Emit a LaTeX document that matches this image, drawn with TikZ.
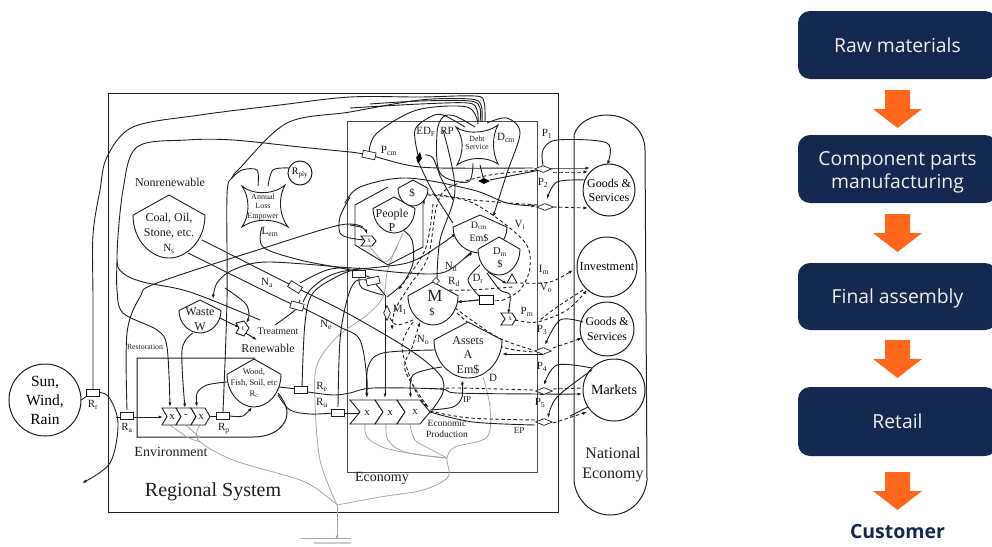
\documentclass[tikz,border=0pt]{standalone}
\usepackage{fontspec}
\setmainfont{Liberation Serif}
\newfontfamily\flowfont{Open Sans}
\usetikzlibrary{arrows.meta,shapes.geometric}
\definecolor{navy}{HTML}{14294F}
\definecolor{orangearrow}{HTML}{FF681C}
\definecolor{ink}{HTML}{1E1E1E}
\newcommand\cv[2][]{\draw[wire,#1] plot[smooth,tension=.55] coordinates {#2};}
\newcommand\tankshape[5]{\draw[wire,fill=white,shift={(#2,#3)},xscale=#4,yscale=#5] (-1,.32)--(0,0)--(1,.32) .. controls (1,.72) and (.5,1) .. (0,1) .. controls (-.5,1) and (-1,.72) .. (-1,.32) -- cycle; \coordinate (#1) at (#2,#3);}
\newcommand\subt[2]{#1\textsubscript{#2}}
\tikzset{
 x=1pt,y=-1pt,
 wire/.style={draw=ink,line width=.9pt},
 arr/.style={-{Latex[length=4.5pt,width=3.2pt]}},
 dsh/.style={dash pattern=on 3.5pt off 2.5pt},
 grayw/.style={draw=black!35,line width=.8pt},
 lab/.style={inner sep=0pt,font=\fontsize{11}{11}\selectfont,text=ink},
 smalltxt/.style={inner sep=0pt,font=\fontsize{7.5}{8}\selectfont,align=center,text=ink},
 midtxt/.style={inner sep=0pt,font=\fontsize{12}{15}\selectfont,align=center,text=ink},
 circ/.style={circle,draw=ink,line width=1pt,fill=white,inner sep=0pt},
 valve/.style={draw=ink,fill=white,line width=.7pt,minimum width=13pt,minimum height=7pt,inner sep=0pt},
 sens/.style={diamond,draw=ink,fill=white,line width=.7pt,minimum width=17pt,minimum height=7pt,inner sep=0pt,aspect=2.5},
 bdiam/.style={diamond,fill=black,inner sep=0pt,minimum width=12pt,minimum height=6pt},
 flowbox/.style={rounded corners=12pt,fill=navy,minimum width=199pt,inner sep=0pt,text=white!94!black,font=\flowfont\fontsize{19.3}{23}\selectfont,align=center},
 oneline/.style={text height=18pt,text depth=4pt},
 downarrow/.style={fill=orangearrow}
}
\newcommand\downarr[2]{\fill[downarrow] (885,#1)--(910,#1)--(910,#1+19)--(922,#1+19)--(897.5,#2)--(873,#1+19)--(885,#1+19)--cycle;}
\begin{document}
\begin{tikzpicture}
\clip (0,0) rectangle (992,546);
% boxes
\draw[wire,line width=1pt] (108,93) rectangle (558,512);
\draw[wire,line width=1pt,draw=ink!80] (347,121) rectangle (537,472);
% national economy capsule
\draw[wire,line width=1pt] (574,480) -- (574,135) .. controls (578,122) and (592,115) .. (607,115) .. controls (628,115) and (645,130) .. (645,150) -- (647,480) .. controls (645,500) and (630,515) .. (610,515) .. controls (590,515) and (575,498) .. (574,480);
% environment frame
\draw[wire,line width=1pt] (255,358) -- (137,358) -- (137,437) -- (253,437) .. controls (275,437) and (287,425) .. (287,413) .. controls (287,405) and (282,398) .. (278,393);
% nodes that curves attach to
\node[circ,minimum size=72pt,font=\fontsize{15.5}{19}\selectfont,align=center] (sun) at (45,400) {Sun,\\Wind,\\Rain};
\node[circ,minimum size=52pt,font=\fontsize{12}{14}\selectfont,align=center] (goodsA) at (609,190) {Goods \&\\Services};
\node[circ,minimum size=60pt,font=\fontsize{12.3}{13}\selectfont] (invest) at (607,267) {Investment};
\node[circ,minimum size=54pt,font=\fontsize{11.8}{15}\selectfont,align=center] (goodsB) at (607,329) {Goods \&\\Services};
\node[circ,minimum size=62pt,font=\fontsize{14}{15}\selectfont] (markets) at (614,390) {Markets};
\node[circ,minimum size=24pt,font=\fontsize{10}{10}\selectfont] (rply) at (300,173) {\subt{R}{ply}};
% gray heat sinks
\cv[grayw]{(365,424)(367,437)(385,448)(420,455)(447,458)}
\cv[grayw]{(386,424)(388,440)(405,452)(447,458)}
\cv[grayw]{(410,424)(415,440)(432,450)(447,458)}
\cv[grayw]{(483,377)(490,407)(487,437)(455,447)(447,458)(448,477)(423,490)(380,497)(337,505)}
\cv[grayw]{(170,425)(187,437)(200,442)}
\cv[grayw]{(186,425)(200,438)}
\cv[grayw]{(200,425)(198,440)(233,460)(300,480)(325,495)(337,505)}
\cv[grayw]{(403,233)(393,255)(387,273)(383,297)(367,315)(337,337)(317,365)(315,400)(320,460)(337,505)}
\cv[grayw]{(365,240)(385,262)(398,245)}
\draw[grayw,arr] (337,505) -- (337,540);
\draw[grayw] (301,538) -- (351,538);
\draw[grayw,draw=black!20,line width=1.2pt] (314,543) -- (351,543);
% long outer curves
\cv{(93,393)(93,300)(93,235)(100,190)(107,157)(133,127)(200,115)(280,105)(350,97)(420,97)(475,96)(484,102)(485,122)}
\cv{(223,412)(227,300)(227,195)(232,178)(240,168)(287,123)(350,112)(420,100)(470,99)(481,105)(482,122)}
\cv{(350,152)(300,147)(233,140)(187,140)(137,147)(123,190)(117,257)(123,273)(143,282)(190,292)(260,320)}
\cv[arr]{(117,262)(117,290)(123,313)(157,330)(167,347)(170,407)}
\cv{(350,152)(369,155)(407,165)(440,168)(533,168)}
\cv[arr]{(540,168)(590,168)}
\cv{(369,152)(377,133)(417,110)(467,107)(478,124)}
\cv{(350,108)(420,104)(468,103)(477,110)(478,122)}
\cv{(370,104)(420,101)(470,101)(480,108)(480,122)}
% sun
\cv[arr]{(sun.east)(93,393)(108,396)(118,423)(110,463)(82,483)}
% restoration
\cv{(127,410)(127,333)(140,297)(157,283)(267,247)(340,225)(363,227)}
\cv[arr]{(350,225)(363,228)(367,234)}
\draw[wire,arr] (116,417) -- (163,417);
% waste etc
\cv[arr]{(193,333)(182,350)(185,408)}
\cv[arr]{(218,317)(232,324)(240,327)}
\draw[wire,arr] (244,332) -- (257,340);
\cv[arr]{(227,382)(207,385)(197,393)(197,407)}
\draw[wire] (210,416) -- (217,416);
\cv[arr]{(230,416)(243,416)(252,407)}
\cv[arr]{(225,288)(245,303)(249,315)(246,323)}
\cv[arr]{(350,268)(267,262)(233,270)(217,283)(213,299)}
% wood to Re and Ru
\cv{(279,387)(297,389)}
\cv[arr]{(308,392)(333,395)(350,393)(373,388)(440,389)(457,393)(540,394)(582,394)}
\cv{(302,387)(305,323)(313,293)(340,275)(360,268)}
\cv{(278,395)(290,410)(310,414)(333,413)}
\draw[wire,arr] (345,413) -- (363,413);
\cv{(338,407)(340,340)(347,300)(356,281)(373,281)}
% coal lines
\cv{(202,240)(295,287)(347,313)(410,350)(440,375)(443,392)(432,410)}
\cv[arr]{(188,253)(283,300)(303,308)(340,327)(360,340)(367,380)(366,397)}
\cv{(300,283)(327,270)(353,268)(407,273)(445,272)(473,250)}
\draw[wire,arr] (465,258) -- (473,252);
\cv[arr]{(303,302)(313,287)(340,272)(407,263)(440,245)(456,233)}
\cv{(275,325)(295,310)(300,300)}
\cv{(262,227)(263,247)(300,260)(350,270)(373,279)}
% L em / R ply
\cv{(268,186)(273,170)(289,168)}
\cv{(258,186)(257,170)(242,170)(232,178)}
% economy valves
\cv{(359,278)(362,288)(383,295)}
\cv{(375,283)(385,295)}
\draw[wire,arr] (385,295) -- (385,398);
\cv{(403,230)(412,240)(413,263)(403,283)(387,297)}
\cv[dsh]{(390,318)(397,325)(413,320)}
% assets to chevrons
\cv[arr]{(435,350)(383,353)(368,367)(367,398)}
\cv[arr]{(442,367)(413,375)(411,398)}
\cv[arr]{(430,410)(453,407)(462,397)(462,380)}
\cv{(430,412)(473,422)(535,425)}
\cv[dsh]{(430,411)(470,418)(537,420)}
% tanks' dashed links
\cv[dsh,arr]{(540,170)(490,175)(450,187)(437,205)(428,257)(410,285)(395,310)(392,330)}
\cv[dsh,arr]{(433,204)(425,250)(398,290)}
\cv[dsh,arr]{(537,205)(473,200)(428,194)(425,205)}
\cv[dsh]{(428,195)(473,203)(523,240)(530,267)(520,290)(503,300)}
\cv[dsh,arr]{(478,300)(457,302)}
\cv[dsh]{(495,300)(503,300)}
\cv[dsh,arr]{(413,322)(402,347)(415,390)(428,407)}
\cv[dsh,arr]{(428,407)(405,370)(413,345)(420,322)}
\cv[dsh]{(437,290)(470,290)(513,287)}
\cv[dsh,arr]{(520,283)(550,282)(573,270)}
\cv[dsh,arr]{(515,320)(537,322)(567,310)(587,290)}
\cv[dsh]{(583,290)(557,307)(540,320)}
\cv[dsh]{(455,308)(497,337)(533,350)}
\cv[dsh]{(457,313)(497,345)(535,352)}
\cv[dsh]{(533,390)(457,388)(430,389)}
% debt service loops
\cv{(465,127)(443,115)(430,117)(415,130)(418,155)}
\cv{(419,163)(432,190)(453,223)}
\cv{(425,155)(433,158)(441,178)(453,200)}
\cv{(475,127)(455,116)(443,117)(437,133)(440,173)(468,182)(473,163)}
\cv{(443,130)(455,190)(440,240)(437,280)}
\cv[arr]{(487,123)(507,118)(520,133)(507,173)(493,217)}
\cv{(480,165)(484,181)}
\cv{(490,180)(540,170)}
% dm / box
\cv{(480,265)(468,280)(480,297)}
\cv[arr]{(487,273)(500,290)(510,295)(508,314)}
\cv[arr]{(488,272)(507,284)}
\draw[wire,arr] (479,300) -- (457,302);
% price sensors
\cv[arr]{(543,165)(543,150)(557,140)(607,143)(607,165)}
\cv[arr]{(585,180)(557,182)(547,199)}
\cv[arr]{(345,203)(360,187)(407,178)(473,190)(507,203)(536,206)}
\cv{(350,197)(340,217)(340,233)(350,238)(365,240)}
\cv[dsh,arr]{(553,172)(588,172)}
\cv[dsh,arr]{(553,207)(588,208)}
\cv[arr]{(583,322)(560,320)(545,345)}
\cv[dsh,arr]{(553,348)(582,338)}
\draw[wire,arr] (543,354) -- (502,354);
\cv[arr]{(592,368)(557,365)(544,385)}
\draw[wire] (540,394) -- (544,394);
\cv[dsh]{(553,389)(582,388)}
\cv[arr]{(592,370)(557,397)(548,418)}
\cv[dsh,arr]{(553,423)(587,412)}
\cv{(588,407)(570,416)}
% hex around people
\draw[wire] (388,187) -- (355,205) -- (355,245) -- (388,265) -- (423,247) -- (423,203);
% tanks
\tankshape{coal}{169}{195}{36}{63}
\tankshape{waste}{200}{300}{21}{33}
\tankshape{wood}{254}{359}{27}{48}
\tankshape{people}{394}{197}{21}{36}
\tankshape{dollar}{413}{180}{15}{26}
\tankshape{dcm}{480}{215}{27}{38}
\tankshape{dm}{499}{237}{21}{38}
\tankshape{money}{433}{282}{25}{43}
\tankshape{assets}{468}{322}{34}{56}
% stars
\draw[wire,fill=white] (242,186) .. controls (252,195) and (274,195) .. (285,185) .. controls (278,198) and (279,215) .. (288,227) .. controls (274,218) and (255,218) .. (242,227) .. controls (250,215) and (250,198) .. (242,186) -- cycle;
\draw[wire,fill=white] (456,127) .. controls (466,135) and (488,133) .. (498,125) .. controls (492,136) and (492,152) .. (498,164) .. controls (486,156) and (468,157) .. (457,165) .. controls (464,152) and (464,138) .. (456,127) -- cycle;
\node[bdiam,rotate=80] (bd1) at (419,158) {};
\node[bdiam] (bd2) at (484,181) {};
% chevrons
\draw[wire,fill=white] (162,408) -- (176,408) -- (181,416.5) -- (176,425) -- (162,425) -- (167,416.5) -- cycle;
\draw[wire,fill=white] (176,408) -- (191,408) -- (196,416.5) -- (191,425) -- (176,425) -- (181,416.5) -- cycle;
\draw[wire,fill=white] (191,408) -- (205,408) -- (210,416.5) -- (205,425) -- (191,425) -- (196,416.5) -- cycle;
\draw[wire,fill=white] (350,400) -- (375,400) -- (383,412) -- (375,424) -- (350,424) -- (360,412) -- cycle;
\draw[wire,fill=white] (375,400) -- (397,400) -- (405,412) -- (397,424) -- (375,424) -- (383,412) -- cycle;
\draw[wire,fill=white] (397,400) -- (420,400) -- (430,412) -- (420,424) -- (397,424) -- (405,412) -- cycle;
\draw[wire,fill=white] (501,313) -- (512,313) -- (516,319) -- (512,325) -- (501,325) -- (505,319) -- cycle;
\draw[wire,fill=white] (361,236) -- (372,236) -- (376,241) -- (372,246) -- (361,246) -- (365,241) -- cycle;
\draw[wire,fill=white] (236,323) -- (244,321) -- (249,328) -- (244,336) -- (236,333) -- (239,328) -- cycle;
\draw[wire,fill=white] (507,283) -- (517,283) -- (512,274) -- cycle;
% valves
\node[valve] (vRr) at (93,393) {};
\node[valve] (vRa) at (127,416) {};
\node[valve] (vRp) at (223,416) {};
\node[valve] (vRe) at (301,390) {};
\node[valve] (vRu) at (338,413) {};
\node[valve,rotate=-32] (vNa) at (295,287) {};
\node[valve,rotate=-15] (vNe) at (297,306) {};
\node[valve] (vA) at (359,274) {};
\node[valve,rotate=12] (vB) at (373,281) {};
\node[valve,rotate=-12] (vPcm) at (369,155) {};
\node[draw=black,fill=white,line width=1pt,minimum width=14pt,minimum height=9pt,inner sep=0pt] (dbox) at (486,300) {};
\node[sens] (p1) at (543,169) {};
\node[sens] (p2) at (545,207) {};
\node[sens] (p3) at (543,351) {};
\node[sens] (p4) at (544,391) {};
\node[sens] (p5) at (544,422) {};
\node[sens,minimum width=7pt,minimum height=15pt,aspect=.5] (m1) at (387,313) {};
\node[draw=ink,fill=white,line width=.6pt,inner sep=0pt,minimum size=5pt,rotate=45] (mtop) at (436,281) {};
% texts
\node[midtxt] at (169,226) {Coal, Oil,\\Stone, etc.};
\node[lab] at (169,249) {\subt{N}{s}};
\node[midtxt] at (200,319) {Waste\\W};
\node[smalltxt,font=\fontsize{8.5}{11}\selectfont] at (254,383) {Wood,\\Fish, Soil, etc\\\subt{R}{c}};
\node[smalltxt,font=\fontsize{10}{10}\selectfont] at (278,331) {Treatment};
\node[lab,font=\fontsize{12}{12}\selectfont] at (268,348) {Renewable};
\node[smalltxt,font=\fontsize{7.8}{8}\selectfont] at (145,347) {Restoration};
\node[lab,font=\fontsize{14}{14}\selectfont] at (171,452) {Environment};
\node[lab,font=\fontsize{20}{20}\selectfont] at (213,492) {Regional System};
\node[lab,font=\fontsize{12}{12}\selectfont] at (170,182) {Nonrenewable};
\node[smalltxt,font=\fontsize{8}{9.5}\selectfont] at (263,207) {Annual\\Loss\\Empower};
\node[lab] at (270,232) {\subt{L}{em}};
\node[lab] at (267,283) {\subt{N}{a}};
\node[lab] at (326,325) {\subt{N}{e}};
\node[lab] at (93,405) {\subt{R}{r}};
\node[lab] at (127,428) {\subt{R}{a}};
\node[lab] at (224,429) {\subt{R}{p}};
\node[lab] at (322,387) {\subt{R}{e}};
\node[lab] at (322,403) {\subt{R}{u}};
\node[lab] at (389,151) {\subt{P}{cm}};
\node[lab] at (426,132) {\subt{ED}{F}};
\node[lab] at (447,131) {RP};
\node[lab] at (506,138) {\subt{D}{cm}};
\node[smalltxt,font=\fontsize{7.8}{8.5}\selectfont] at (477,143) {Debt\\Service};
\node[lab] at (412,193) {\$};
\node[midtxt,font=\fontsize{12}{14}\selectfont] at (392,220) {People\\P};
\node[midtxt,font=\fontsize{10}{13}\selectfont] at (479,232) {\subt{D}{cm}\\Em\$};
\node[midtxt,font=\fontsize{10.5}{13}\selectfont] at (500,258) {\subt{D}{m}\\\$};
\node[lab,font=\fontsize{17}{17}\selectfont] at (435,296) {M};
\node[lab,font=\fontsize{10.5}{11}\selectfont] at (432,312) {\$};
\node[midtxt,font=\fontsize{12}{14.5}\selectfont] at (468,355) {Assets\\A\\Em\$};
\node[lab] at (451,267) {\subt{N}{d}};
\node[lab] at (454,282) {\subt{R}{d}};
\node[lab] at (478,279) {\subt{D}{r}};
\node[lab] at (400,310) {\subt{M}{1}};
\node[lab] at (423,340) {\subt{N}{o}};
\node[lab] at (520,225) {\subt{V}{i}};
\node[lab] at (544,270) {\subt{I}{m}};
\node[lab] at (546,288) {\subt{V}{o}};
\node[lab] at (527,312) {\subt{P}{m}};
\node[lab] at (547,134) {\subt{P}{1}};
\node[lab] at (543,183) {\subt{P}{2}};
\node[lab] at (542,330) {\subt{P}{3}};
\node[lab] at (542,367) {\subt{P}{4}};
\node[lab] at (540,403) {\subt{P}{5}};
\node[lab] at (493,378) {D};
\node[lab,font=\fontsize{9}{9}\selectfont] at (467,400) {IP};
\node[lab,font=\fontsize{9}{9}\selectfont] at (519,431) {EP};
\node[smalltxt,font=\fontsize{9.5}{11.5}\selectfont] at (447,429) {Economic\\Production};
\node[lab,font=\fontsize{14}{14}\selectfont] at (382,478) {Economy};
\node[lab,font=\fontsize{16}{20}\selectfont,align=center] at (613,465) {National\\Economy};
\node[lab] at (172,417) {x};
\node[lab] at (186,416) {-};
\node[lab] at (201,417) {x};
\node[lab] at (367,413) {x};
\node[lab] at (390,413) {x};
\node[lab] at (415,412) {x};
\node[lab,font=\fontsize{7}{8}\selectfont] at (510,319) {x};
\node[lab,font=\fontsize{7}{8}\selectfont] at (369,241) {x};
\node[lab,font=\fontsize{7}{8}\selectfont] at (243,329) {t};
% flow chart
\node[flowbox,oneline,minimum height=68pt] (raw) at (897.5,45) {Raw materials};
\node[flowbox,minimum height=68pt] (parts) at (897.5,169) {};
\node[inner sep=0pt,text=white!94!black,font=\flowfont\fontsize{19.3}{23}\selectfont,align=center] (partstext) at (897.5,172) {Component parts\\manufacturing};
\node[flowbox,oneline,minimum height=67pt] (final) at (897.5,296.5) {Final assembly};
\node[flowbox,oneline,minimum height=69pt] (retail) at (897.5,421.5) {Retail};
\node[inner sep=0pt,text=navy,font=\flowfont\bfseries\fontsize{19.5}{20}\selectfont] (customer) at (897.5,532) {Customer};
\downarr{90}{128}
\downarr{214}{252}
\downarr{340}{378}
\downarr{472}{510}
\end{tikzpicture}
\end{document}
